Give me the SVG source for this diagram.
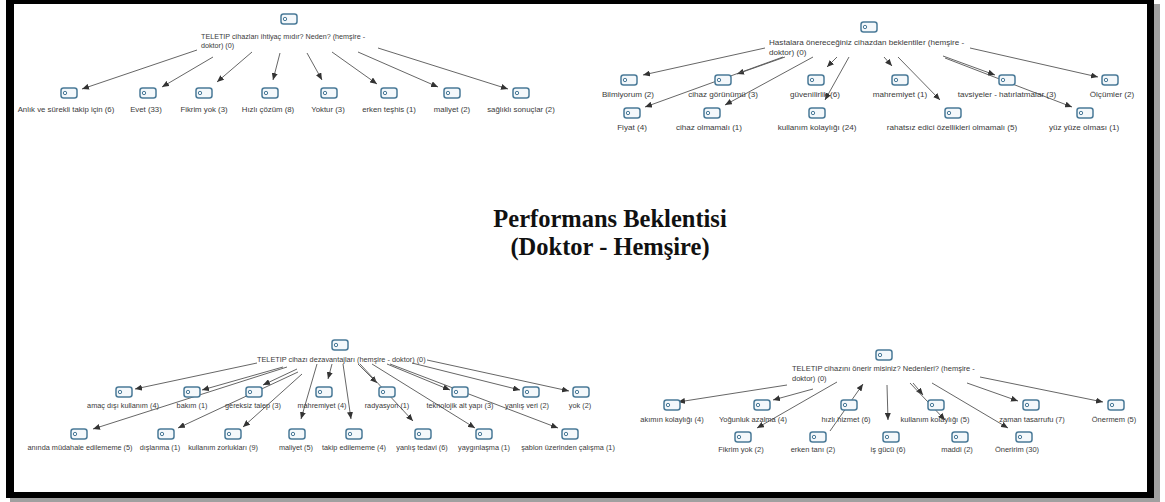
<svg xmlns="http://www.w3.org/2000/svg" xmlns:xlink="http://www.w3.org/1999/xlink" width="1165" height="502" viewBox="0 0 1165 502">
<defs>
<style>
.lbl{font-family:"Liberation Sans",Arial,sans-serif;fill:#3a3a3a;text-anchor:middle}
.root{font-family:"Liberation Sans",Arial,sans-serif;fill:#3a3a3a}
.tl{font-size:7.8px}.tr{font-size:8.1px}.bl{font-size:7.3px}.br{font-size:7.5px}
.title{font-family:"Liberation Serif","Times New Roman",serif;font-weight:bold;font-size:24.5px;fill:#111;text-anchor:middle}
.edge{stroke:#555;stroke-width:0.9;fill:none;marker-end:url(#ah)}
</style>
<marker id="ah" markerUnits="userSpaceOnUse" markerWidth="8" markerHeight="6" refX="7" refY="3" orient="auto">
<path d="M0,0 L7,3 L0,6 z" fill="#333"/>
</marker>
<symbol id="ic" viewBox="0 0 18 12">
<rect x="1" y="1" width="16" height="10" rx="2.5" fill="#f4f8fb" stroke="#4a7a98" stroke-width="1.5"/>
<circle cx="5" cy="6" r="1.7" fill="none" stroke="#4a7a98" stroke-width="1"/>
</symbol>
</defs>
<rect x="0" y="0" width="1165" height="502" fill="#fff"/>
<rect x="10" y="4" width="1150" height="498" fill="#a0a0a0"/>
<rect x="6" y="-4" width="1148" height="502" fill="#000"/>
<rect x="14" y="4" width="1133" height="488" fill="#fff"/>

<text class="title" x="610" y="227">Performans Beklentisi</text>
<text class="title" x="610" y="255">(Doktor - Hemşire)</text>

<g id="connectors">
<line class="edge" x1="197" y1="50" x2="82" y2="89"/>
<line class="edge" x1="213" y1="57" x2="162" y2="87"/>
<line class="edge" x1="252" y1="52" x2="217" y2="82"/>
<line class="edge" x1="280" y1="53" x2="273" y2="80"/>
<line class="edge" x1="307" y1="53" x2="322" y2="80"/>
<line class="edge" x1="332" y1="52" x2="377" y2="84"/>
<line class="edge" x1="358" y1="52" x2="438" y2="87"/>
<line class="edge" x1="378" y1="48" x2="508" y2="89"/>
<line class="edge" x1="765" y1="48" x2="643" y2="75"/>
<line class="edge" x1="785" y1="57" x2="737" y2="74"/>
<line class="edge" x1="783" y1="57" x2="645" y2="107"/>
<line class="edge" x1="813" y1="57" x2="725" y2="105"/>
<line class="edge" x1="837" y1="57" x2="827" y2="67"/>
<line class="edge" x1="849" y1="57" x2="825" y2="100"/>
<line class="edge" x1="884" y1="57" x2="892" y2="66"/>
<line class="edge" x1="898" y1="57" x2="940" y2="100"/>
<line class="edge" x1="943" y1="56" x2="995" y2="75"/>
<line class="edge" x1="945" y1="58" x2="1072" y2="107"/>
<line class="edge" x1="970" y1="48" x2="1098" y2="77"/>
<line class="edge" x1="257" y1="363" x2="135" y2="389"/>
<line class="edge" x1="283" y1="367" x2="202" y2="390"/>
<line class="edge" x1="287" y1="367" x2="93" y2="429"/>
<line class="edge" x1="297" y1="369" x2="263" y2="385"/>
<line class="edge" x1="298" y1="372" x2="178" y2="428"/>
<line class="edge" x1="302" y1="374" x2="243" y2="427"/>
<line class="edge" x1="317" y1="364" x2="301" y2="419"/>
<line class="edge" x1="332" y1="364" x2="328" y2="379"/>
<line class="edge" x1="343" y1="364" x2="351" y2="419"/>
<line class="edge" x1="358" y1="364" x2="377" y2="383"/>
<line class="edge" x1="360" y1="364" x2="413" y2="421"/>
<line class="edge" x1="372" y1="364" x2="475" y2="428"/>
<line class="edge" x1="387" y1="364" x2="450" y2="390"/>
<line class="edge" x1="390" y1="364" x2="558" y2="428"/>
<line class="edge" x1="412" y1="363" x2="520" y2="390"/>
<line class="edge" x1="427" y1="360" x2="569" y2="391"/>
<line class="edge" x1="787" y1="385" x2="678" y2="402"/>
<line class="edge" x1="813" y1="389" x2="773" y2="400"/>
<line class="edge" x1="837" y1="382" x2="757" y2="428"/>
<line class="edge" x1="830" y1="431" x2="863" y2="384"/>
<line class="edge" x1="887" y1="385" x2="888" y2="420"/>
<line class="edge" x1="913" y1="383" x2="923" y2="395"/>
<line class="edge" x1="910" y1="383" x2="945" y2="420"/>
<line class="edge" x1="932" y1="383" x2="1008" y2="428"/>
<line class="edge" x1="967" y1="383" x2="1018" y2="401"/>
<line class="edge" x1="980" y1="377" x2="1103" y2="402"/>
</g>

<g id="tl-root"><use href="#ic" x="280" y="13" width="18" height="12"/><text class="root tl" style="font-size:7.2px" x="201" y="39">TELETIP cihazları ihtiyaç mıdır? Neden? (hemşire -</text><text class="root tl" style="font-size:7.2px" x="201" y="48">doktor) (0)</text></g>
<g id="tl-1"><use href="#ic" x="60" y="87" width="18" height="12"/><text class="lbl tl" x="66" y="112">Anlık ve sürekli takip için (6)</text></g>
<g id="tl-2"><use href="#ic" x="139" y="87" width="18" height="12"/><text class="lbl tl" x="146" y="112">Evet (33)</text></g>
<g id="tl-3"><use href="#ic" x="195" y="87" width="18" height="12"/><text class="lbl tl" x="204" y="112">Fikrim yok (3)</text></g>
<g id="tl-4"><use href="#ic" x="261" y="87" width="18" height="12"/><text class="lbl tl" x="268" y="112">Hızlı çözüm (8)</text></g>
<g id="tl-5"><use href="#ic" x="320" y="87" width="18" height="12"/><text class="lbl tl" x="328" y="112">Yoktur (3)</text></g>
<g id="tl-6"><use href="#ic" x="380" y="87" width="18" height="12"/><text class="lbl tl" x="389" y="112">erken teşhis (1)</text></g>
<g id="tl-7"><use href="#ic" x="443" y="87" width="18" height="12"/><text class="lbl tl" x="452" y="112">maliyet (2)</text></g>
<g id="tl-8"><use href="#ic" x="512" y="87" width="18" height="12"/><text class="lbl tl" x="521" y="112">sağlıklı sonuçlar (2)</text></g>

<g id="tr-root"><use href="#ic" x="860" y="21" width="18" height="12"/><text class="root tr" x="769" y="45">Hastalara önereceğiniz cihazdan beklentiler (hemşire -</text><text class="root tr" x="769" y="55">doktor) (0)</text></g>
<g id="tr-1"><use href="#ic" x="620" y="74" width="18" height="12"/><text class="lbl tr" x="628" y="97">Bilmiyorum (2)</text></g>
<g id="tr-2"><use href="#ic" x="714" y="74" width="18" height="12"/><text class="lbl tr" x="723" y="97">cihaz görünümü (3)</text></g>
<g id="tr-3"><use href="#ic" x="807" y="74" width="18" height="12"/><text class="lbl tr" x="815" y="97">güvenilirlik (6)</text></g>
<g id="tr-4"><use href="#ic" x="891" y="74" width="18" height="12"/><text class="lbl tr" x="900" y="97">mahremiyet (1)</text></g>
<g id="tr-5"><use href="#ic" x="998" y="74" width="18" height="12"/><text class="lbl tr" x="1007" y="97">tavsiyeler - hatırlatmalar (3)</text></g>
<g id="tr-6"><use href="#ic" x="1101" y="74" width="18" height="12"/><text class="lbl tr" x="1112" y="97">Ölçümler (2)</text></g>
<g id="tr-7"><use href="#ic" x="623" y="107" width="18" height="12"/><text class="lbl tr" x="632" y="130">Fiyat (4)</text></g>
<g id="tr-8"><use href="#ic" x="703" y="107" width="18" height="12"/><text class="lbl tr" x="709" y="130">cihaz olmamalı (1)</text></g>
<g id="tr-9"><use href="#ic" x="808" y="107" width="18" height="12"/><text class="lbl tr" x="817" y="130">kullanım kolaylığı (24)</text></g>
<g id="tr-10"><use href="#ic" x="944" y="107" width="18" height="12"/><text class="lbl tr" x="952" y="130">rahatsız edici özellikleri olmamalı (5)</text></g>
<g id="tr-11"><use href="#ic" x="1076" y="107" width="18" height="12"/><text class="lbl tr" x="1084" y="130">yüz yüze olması (1)</text></g>

<g id="bl-root"><use href="#ic" x="331" y="339" width="18" height="12"/><text class="root bl" x="257" y="362">TELETIP cihazı dezavantajları (hemşire - doktor) (0)</text></g>
<g id="bl-1"><use href="#ic" x="115" y="386" width="18" height="12"/><text class="lbl bl" x="123" y="408">amaç dışı kullanım (4)</text></g>
<g id="bl-2"><use href="#ic" x="183" y="386" width="18" height="12"/><text class="lbl bl" x="192" y="408">bakım (1)</text></g>
<g id="bl-3"><use href="#ic" x="245" y="386" width="18" height="12"/><text class="lbl bl" x="253" y="408">gereksiz talep (3)</text></g>
<g id="bl-4"><use href="#ic" x="315" y="386" width="18" height="12"/><text class="lbl bl" x="322" y="408">mahremiyet (4)</text></g>
<g id="bl-5"><use href="#ic" x="378" y="386" width="18" height="12"/><text class="lbl bl" x="387" y="408">radyasyon (1)</text></g>
<g id="bl-6"><use href="#ic" x="451" y="386" width="18" height="12"/><text class="lbl bl" x="460" y="408">teknolojik alt yapı (3)</text></g>
<g id="bl-7"><use href="#ic" x="522" y="386" width="18" height="12"/><text class="lbl bl" x="527" y="408">yanlış veri (2)</text></g>
<g id="bl-8"><use href="#ic" x="572" y="386" width="18" height="12"/><text class="lbl bl" x="580" y="408">yok (2)</text></g>
<g id="bl-9"><use href="#ic" x="70" y="428" width="18" height="12"/><text class="lbl bl" x="80" y="450">anında müdahale edilememe (5)</text></g>
<g id="bl-10"><use href="#ic" x="157" y="428" width="18" height="12"/><text class="lbl bl" x="160" y="450">dışlanma (1)</text></g>
<g id="bl-11"><use href="#ic" x="224" y="428" width="18" height="12"/><text class="lbl bl" x="223" y="450">kullanım zorlukları (9)</text></g>
<g id="bl-12"><use href="#ic" x="288" y="428" width="18" height="12"/><text class="lbl bl" x="296" y="450">maliyet (5)</text></g>
<g id="bl-13"><use href="#ic" x="345" y="428" width="18" height="12"/><text class="lbl bl" x="354" y="450">takip edilememe (4)</text></g>
<g id="bl-14"><use href="#ic" x="414" y="428" width="18" height="12"/><text class="lbl bl" x="422" y="450">yanlış tedavi (6)</text></g>
<g id="bl-15"><use href="#ic" x="475" y="428" width="18" height="12"/><text class="lbl bl" x="484" y="450">yaygınlaşma (1)</text></g>
<g id="bl-16"><use href="#ic" x="561" y="428" width="18" height="12"/><text class="lbl bl" x="568" y="450">şablon üzerinden çalışma (1)</text></g>

<g id="br-root"><use href="#ic" x="875" y="349" width="18" height="12"/><text class="root br" x="792" y="371">TELETIP cihazını önerir misiniz? Nedenleri? (hemşire -</text><text class="root br" x="792" y="381">doktor) (0)</text></g>
<g id="br-1"><use href="#ic" x="663" y="399" width="18" height="12"/><text class="lbl br" x="672" y="422">akımın kolaylığı (4)</text></g>
<g id="br-2"><use href="#ic" x="753" y="399" width="18" height="12"/><text class="lbl br" x="753" y="422">Yoğunluk azalma (4)</text></g>
<g id="br-3"><use href="#ic" x="840" y="399" width="18" height="12"/><text class="lbl br" x="846" y="422">hızlı hizmet (6)</text></g>
<g id="br-4"><use href="#ic" x="927" y="399" width="18" height="12"/><text class="lbl br" x="935" y="422">kullanım kolaylığı (5)</text></g>
<g id="br-5"><use href="#ic" x="1022" y="399" width="18" height="12"/><text class="lbl br" x="1032" y="422">zaman tasarrufu (7)</text></g>
<g id="br-6"><use href="#ic" x="1107" y="399" width="18" height="12"/><text class="lbl br" x="1114" y="422">Önermem (5)</text></g>
<g id="br-7"><use href="#ic" x="734" y="431" width="18" height="12"/><text class="lbl br" x="741" y="452">Fikrim yok (2)</text></g>
<g id="br-8"><use href="#ic" x="809" y="431" width="18" height="12"/><text class="lbl br" x="813" y="452">erken tanı (2)</text></g>
<g id="br-9"><use href="#ic" x="882" y="431" width="18" height="12"/><text class="lbl br" x="888" y="452">iş gücü (6)</text></g>
<g id="br-10"><use href="#ic" x="951" y="431" width="18" height="12"/><text class="lbl br" x="957" y="452">maddi (2)</text></g>
<g id="br-11"><use href="#ic" x="1015" y="431" width="18" height="12"/><text class="lbl br" x="1017" y="452">Öneririm (30)</text></g>
</svg>
